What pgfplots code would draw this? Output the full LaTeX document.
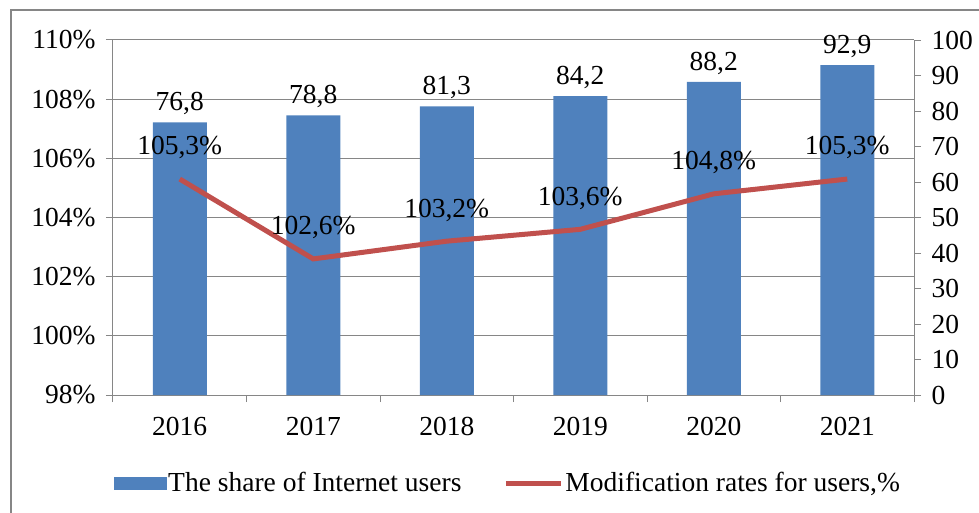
\documentclass[border=0pt]{standalone}
\usepackage{fontspec}
\setmainfont{Liberation Serif}
\usepackage{pgfplots}
\usepackage{pgfplotstable}
\pgfplotsset{compat=1.18}
\definecolor{barblue}{RGB}{79,129,189}
\definecolor{linered}{RGB}{192,80,77}
\definecolor{axgray}{RGB}{134,134,134}

\pgfplotstableread{
x year share rate
0 2016 76.8 105.3
1 2017 78.8 102.6
2 2018 81.3 103.2
3 2019 84.2 103.6
4 2020 88.2 104.8
5 2021 92.9 105.3
}\chartdata

\begin{document}
\begin{tikzpicture}[font=\fontsize{27.5}{31}\selectfont]
\useasboundingbox (-113pt,-117pt) rectangle (866pt,395pt);
\draw[axgray, line width=2.5pt] (-102pt,-130pt) -- (-102pt,385pt) -- (880pt,385pt);
\pgfplotsset{base/.style={width=801pt, height=355pt, scale only axis,
  xmin=-0.5, xmax=5.5, /pgf/number format/assume math mode=true}}
% left axis, grid and categories
\begin{axis}[base, ymin=98, ymax=110,
  axis x line*=bottom, axis y line*=left,
  axis line style={axgray, line width=1pt},
  ytick={98,100,...,110},
  yticklabels={98\%,100\%,102\%,104\%,106\%,108\%,110\%},
  yticklabel style={xshift=-7pt},
  ymajorgrids, grid style={axgray, line width=1pt},
  xtick={-0.5,0.5,...,5.5}, xticklabels={},
  extra x ticks={0,1,2,3,4,5},
  extra x tick labels={2016,2017,2018,2019,2020,2021},
  extra x tick style={major tick length=0pt},
  xticklabel style={yshift=-19pt},
  tick align=outside, major tick length=7pt,
  tick style={axgray, line width=1pt},
]
\end{axis}
% right axis, bars
\begin{axis}[base, ymin=0, ymax=100,
  axis x line=none, axis y line*=right,
  axis line style={axgray, line width=1pt},
  ytick={0,10,...,100},
  yticklabel style={xshift=7pt},
  tick align=outside, major tick length=7pt,
  tick style={axgray, line width=1pt},
  ybar, bar width=54pt,
  nodes near coords={\pgfmathprintnumber[fixed,fixed zerofill,precision=1,use comma,assume math mode=true]{\pgfplotspointmeta}},
  every node near coord/.append style={yshift=4pt, black},
]
\addplot[fill=barblue, draw=none] table[x=x, y=share] {\chartdata};
\end{axis}
% line on left scale
\begin{axis}[base, ymin=98, ymax=110, hide axis,
  nodes near coords={\pgfmathprintnumber[fixed,fixed zerofill,precision=1,use comma,assume math mode=true]{\pgfplotspointmeta}\%},
  every node near coord/.append style={yshift=14pt, black},
  legend columns=2,
  legend style={draw=none, fill=none, at={(0.493,-0.248)}, anchor=center,
    nodes={inner sep=2pt, anchor=west},
    /tikz/every even column/.append style={column sep=40pt}},
]
\addlegendimage{legend image code/.code={\fill[barblue] (0pt,-6pt) rectangle (52pt,6pt);}}
\addlegendentry{The share of Internet users}
\addplot[linered, line width=5pt, mark=none,
  legend image code/.code={\draw[linered, line width=5pt] (0pt,0pt) -- (55pt,0pt);}]
  table[x=x, y=rate] {\chartdata};
\addlegendentry{Modification rates for users,\%}
\end{axis}
\end{tikzpicture}
\end{document}
